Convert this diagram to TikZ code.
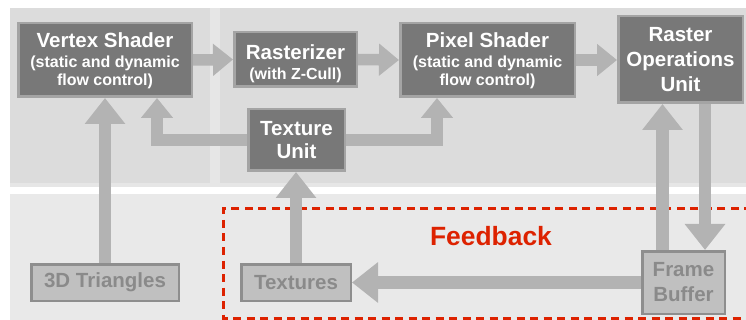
\documentclass[tikz,border=0pt]{standalone}
\usepackage{fontspec}
\setmainfont{Liberation Sans}
\usetikzlibrary{arrows.meta,backgrounds}

\definecolor{panel}{HTML}{DCDCDC}
\definecolor{gapgray}{HTML}{E6E6E6}
\definecolor{lowgray}{HTML}{E9E9E9}
\definecolor{unitfill}{HTML}{787878}
\definecolor{unitedge}{HTML}{A4A4A4}
\definecolor{srcfill}{HTML}{C0C0C0}
\definecolor{srcedge}{HTML}{8E8E8E}
\definecolor{srctext}{HTML}{8A8A8A}
\definecolor{flow}{HTML}{B3B3B3}
\definecolor{fbred}{HTML}{DD2200}

% first line of a two-size unit label; the optional strut lowers the text block
\newcommand\unittitle[2][0pt]{{\fontsize{20.5}{20}\selectfont\rule{0pt}{#1}#2}}

\begin{document}
\begin{tikzpicture}[x=1pt,y=-1pt,
  unit/.style={draw=unitedge, fill=unitfill, line width=2.5pt, text=white,
    inner sep=0pt, align=center, font=\bfseries\fontsize{16}{18}\selectfont},
  bigunit/.style={unit, font=\bfseries\fontsize{20.5}{25}\selectfont},
  src/.style={draw=srcedge, fill=srcfill, line width=2.5pt, text=srctext,
    inner sep=0pt, align=center, font=\bfseries\fontsize{20.5}{25}\selectfont},
  arrS/.style={draw=flow, line width=11.5pt, -{Triangle[width=31pt,length=20pt]}},
  arrL/.style={draw=flow, line width=12.5pt, -{Triangle[width=39pt,length=26pt]}},
]
\useasboundingbox (0,0) rectangle (746,320);

% backdrop: two pipeline panels on top, feedback area below
\begin{pgfonlayer}{background}
  \fill[white] (0,0) rectangle (746,320);
  \fill[gapgray] (10,8) rectangle (746,187);
  \fill[panel] (10,8) rectangle (210,183);
  \fill[panel] (220,8) rectangle (746,183);
  \fill[lowgray] (10,194) rectangle (746,320);
  \draw[fbred, line width=3.5pt, dash pattern=on 8pt off 5.5pt]
    (752,208.5) -- (223.5,208.5) -- (223.5,318.5) -- (752,318.5);
\end{pgfonlayer}

% processing units
\node[unit, minimum width=173.5pt, minimum height=73.5pt] (VS) at (105,60)
  {\unittitle[17pt]{Vertex Shader}\\[2pt](static and dynamic\\flow control)};
\node[unit, minimum width=122.5pt, minimum height=54.5pt] (Rast) at (295.5,59.5)
  {\unittitle[24pt]{Rasterizer}\\[2pt](with Z-Cull)};
\node[unit, minimum width=174.5pt, minimum height=73.5pt] (PS) at (487.5,60)
  {\unittitle[17pt]{Pixel Shader}\\[2pt](static and dynamic\\flow control)};
\node[bigunit, minimum width=124.5pt, minimum height=86.5pt] (ROP) at (680.5,59.5)
  {Raster\\Operations\\Unit};
\node[bigunit, font=\bfseries\fontsize{20.5}{23}\selectfont,
  minimum width=96.5pt, minimum height=61.5pt] (TU) at (296.5,140)
  {Texture\\Unit};

% data sources and sinks
\node[src, minimum width=147.5pt, minimum height=36.5pt] (tri) at (105,282.5) {3D Triangles};
\node[src, minimum width=109.5pt, minimum height=36.5pt] (Tex) at (296,282.5) {Textures};
\node[src, minimum width=82.5pt, minimum height=62.5pt] (FB) at (683.5,282.5) {Frame\\Buffer};

\node[text=fbred, font=\bfseries\fontsize{26.4}{30}\selectfont, anchor=base, inner sep=0pt]
  (fblabel) at (491,245) {Feedback};

% data flow
\begin{pgfonlayer}{background}
  \draw[arrS] (VS.east) -- (Rast.west);
  \draw[arrS] (Rast.east) -- (PS.west);
  \draw[arrS] (PS.east) -- (PS.east -| ROP.west);
  \draw[arrL] (tri.north) -- (VS.south);
  \draw[arrS] (TU.west) -| ([xshift=52pt]VS.south);
  \draw[arrS] (TU.east) -| ([xshift=-50.5pt]PS.south);
  \draw[arrL] (Tex.north) -- (Tex.north |- TU.south);
  \draw[arrL] ([xshift=-21pt]FB.north) -- ([xshift=-21pt]FB.north |- ROP.south);
  \draw[arrL] ([xshift=21.5pt]FB.north |- ROP.south) -- ([xshift=21.5pt]FB.north);
  \draw[arrL] (FB.west) -- (Tex.east);
\end{pgfonlayer}
\end{tikzpicture}
\end{document}
